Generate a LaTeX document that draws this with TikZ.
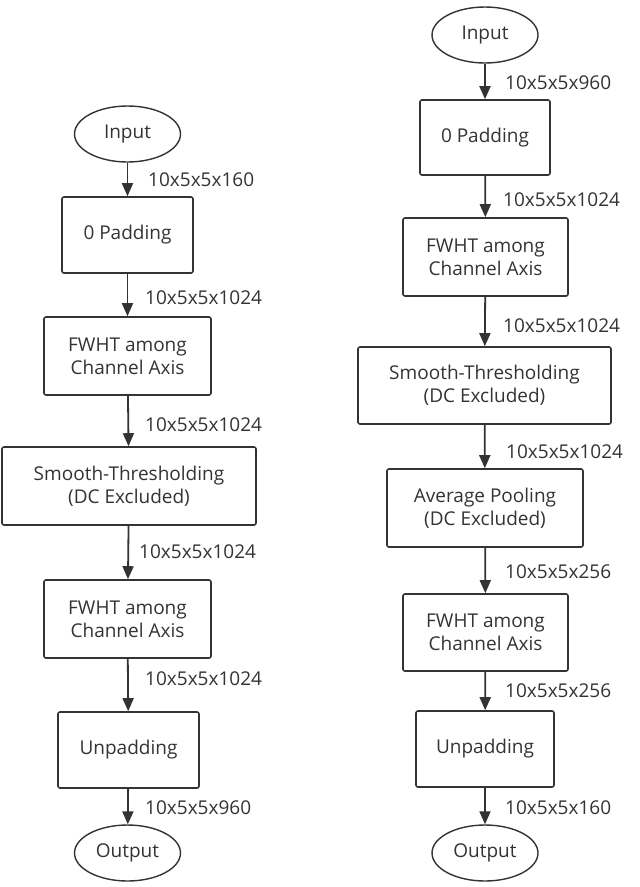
\documentclass[tikz,border=0pt]{standalone}
\usepackage{fontspec}
\setmainfont{Open Sans}
\usetikzlibrary{shapes.geometric,arrows.meta}
\definecolor{ink}{HTML}{333333}
\begin{document}
\begin{tikzpicture}[x=1pt,y=-1pt,
  every node/.style={text=ink,font=\fontsize{19}{23}\selectfont},
  box/.style={draw=ink,line width=1.6pt,rounded corners=2pt,align=center,inner sep=0pt},
  oval/.style={draw=ink,line width=1.4pt,ellipse,minimum width=106pt,minimum height=56pt,inner sep=0pt},
  arr/.style={draw=ink,line width=1.8pt,-{Triangle[length=13pt,width=11pt]}},
  lab/.style={anchor=west,inner sep=0pt}]
\useasboundingbox (0,0) rectangle (640,887);
\newcommand{\bx}[6]{\node[box,minimum width=#4-#3,minimum height=#6-#5] (#1) at ({(#3+#4)/2},{(#5+#6)/2}) {#2};}
% left
\node[oval] (li) at (127.5,134) {Input};
\bx{lp}{0 Padding}{62}{193}{197}{273}
\bx{lf}{FWHT among\\Channel Axis}{44}{211}{317}{395}
\bx{ls}{Smooth-Thresholding\\(DC Excluded)}{2}{256}{447}{525}
\bx{lf2}{FWHT among\\Channel Axis}{44}{211}{580}{658}
\bx{lu}{Unpadding}{58}{199}{712}{788}
\node[oval] (lo) at (127.5,853) {Output};
\draw[arr] (li) -- (lp); \node[lab] (l1) at (148,180) {10x5x5x160};
\draw[arr] (lp) -- (lf); \node[lab] (l2) at (145,298) {10x5x5x1024};
\draw[arr] (lf) -- (ls); \node[lab] (l3) at (145,425) {10x5x5x1024};
\draw[arr] (ls) -- (lf2); \node[lab] (l4) at (139,552) {10x5x5x1024};
\draw[arr] (lf2) -- (lu); \node[lab] (l5) at (145,679) {10x5x5x1024};
\draw[arr] (lu) -- (lo); \node[lab] (l6) at (145,808) {10x5x5x960};
% right
\node[oval] (ri) at (485,35) {Input};
\bx{rp}{0 Padding}{420}{550}{100}{175}
\bx{rf}{FWHT among\\Channel Axis}{403}{568}{218}{296}
\bx{rs}{Smooth-Thresholding\\(DC Excluded)}{358}{611}{347}{424}
\bx{ra}{Average Pooling\\(DC Excluded)}{387}{583}{469}{547}
\bx{rf2}{FWHT among\\Channel Axis}{403}{568}{594}{671}
\bx{ru}{Unpadding}{416}{554}{711}{787}
\node[oval] (ro) at (485,853) {Output};
\draw[arr] (ri) -- (rp); \node[lab] (r1) at (505,83) {10x5x5x960};
\draw[arr] (rp) -- (rf); \node[lab] (r2) at (503,200) {10x5x5x1024};
\draw[arr] (rf) -- (rs); \node[lab] (r3) at (503,326) {10x5x5x1024};
\draw[arr] (rs) -- (ra); \node[lab] (r4) at (506,452) {10x5x5x1024};
\draw[arr] (ra) -- (rf2); \node[lab] (r5) at (505,572) {10x5x5x256};
\draw[arr] (rf2) -- (ru); \node[lab] (r6) at (505,691) {10x5x5x256};
\draw[arr] (ru) -- (ro); \node[lab] (r7) at (505,808) {10x5x5x160};
\end{tikzpicture}
\end{document}
